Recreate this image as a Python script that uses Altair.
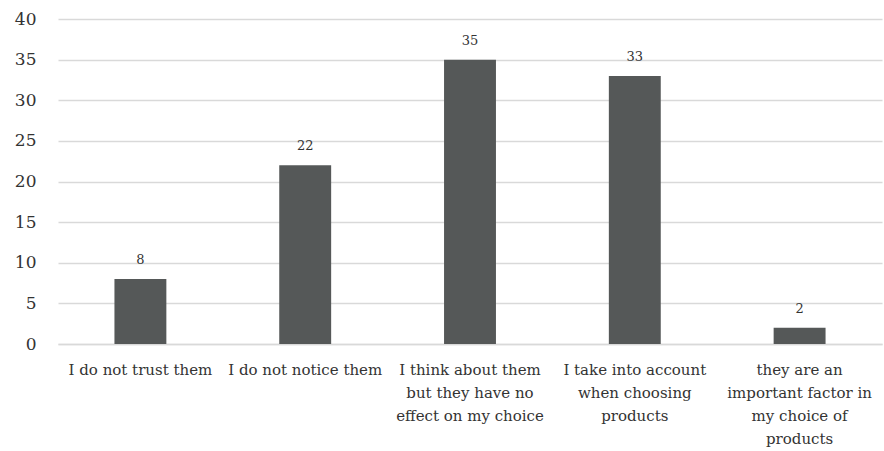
import altair as alt
import pandas as pd

# Survey responses: attitude towards the labels
categories = [
    "I do not trust them",
    "I do not notice them",
    "I think about them but they have no effect on my choice",
    "I take into account when choosing products",
    "they are an important factor in my choice of products",
]
label_lines = [
    ["I do not trust them"],
    ["I do not notice them"],
    ["I think about them", "but they have no", "effect on my choice"],
    ["I take into account", "when choosing", "products"],
    ["they are an", "important factor in", "my choice of", "products"],
]
values = [8, 22, 35, 33, 2]

df = pd.DataFrame({"category": categories, "value": values})

# Map each category to its wrapped multi-line label
label_map = {c: l for c, l in zip(categories, label_lines)}
label_expr = "".join(
    f"datum.label == {c!r} ? {l!r} : " for c, l in label_map.items()
) + "datum.label"

FONT = "DejaVu Serif"

base = alt.Chart(df).encode(
    x=alt.X(
        "category:N",
        sort=categories,
        scale=alt.Scale(paddingInner=0.685, paddingOuter=0.3425),
        axis=alt.Axis(
            title=None,
            labelAngle=0,
            labelExpr=label_expr,
            labelFont=FONT,
            labelFontSize=15,
            labelColor="#333333",
            labelLineHeight=23,
            labelPadding=18,
            ticks=False,
            grid=False,
            domainColor="#d9d9d9",
            domainWidth=1.3,
            labelLimit=250,
        ),
    ),
    y=alt.Y(
        "value:Q",
        scale=alt.Scale(domain=[0, 40]),
        axis=alt.Axis(
            title=None,
            values=list(range(0, 41, 5)),
            labelFont=FONT,
            labelFontSize=17,
            labelColor="#333333",
            labelPadding=22,
            ticks=False,
            domain=False,
            gridColor="#d9d9d9",
            gridWidth=1.3,
        ),
    ),
)

bars = base.mark_bar(color="#555858")
text = base.mark_text(
    baseline="bottom", dy=-12, font=FONT, fontSize=13, color="#333333"
).encode(text="value:Q")

chart = (
    (bars + text)
    .properties(
        width=824,
        height=325,
        autosize=alt.AutoSizeParams(type="none"),
        padding={"left": 58, "top": 19, "right": 2, "bottom": 107},
        view=alt.ViewBackground(strokeWidth=0),
    )
    .configure_view(strokeWidth=0)
    .configure(background="white", font=FONT, style={"cell": {"strokeWidth": 0}})
)

chart.save("out.html", embed_options={"renderer": "svg", "actions": False})
